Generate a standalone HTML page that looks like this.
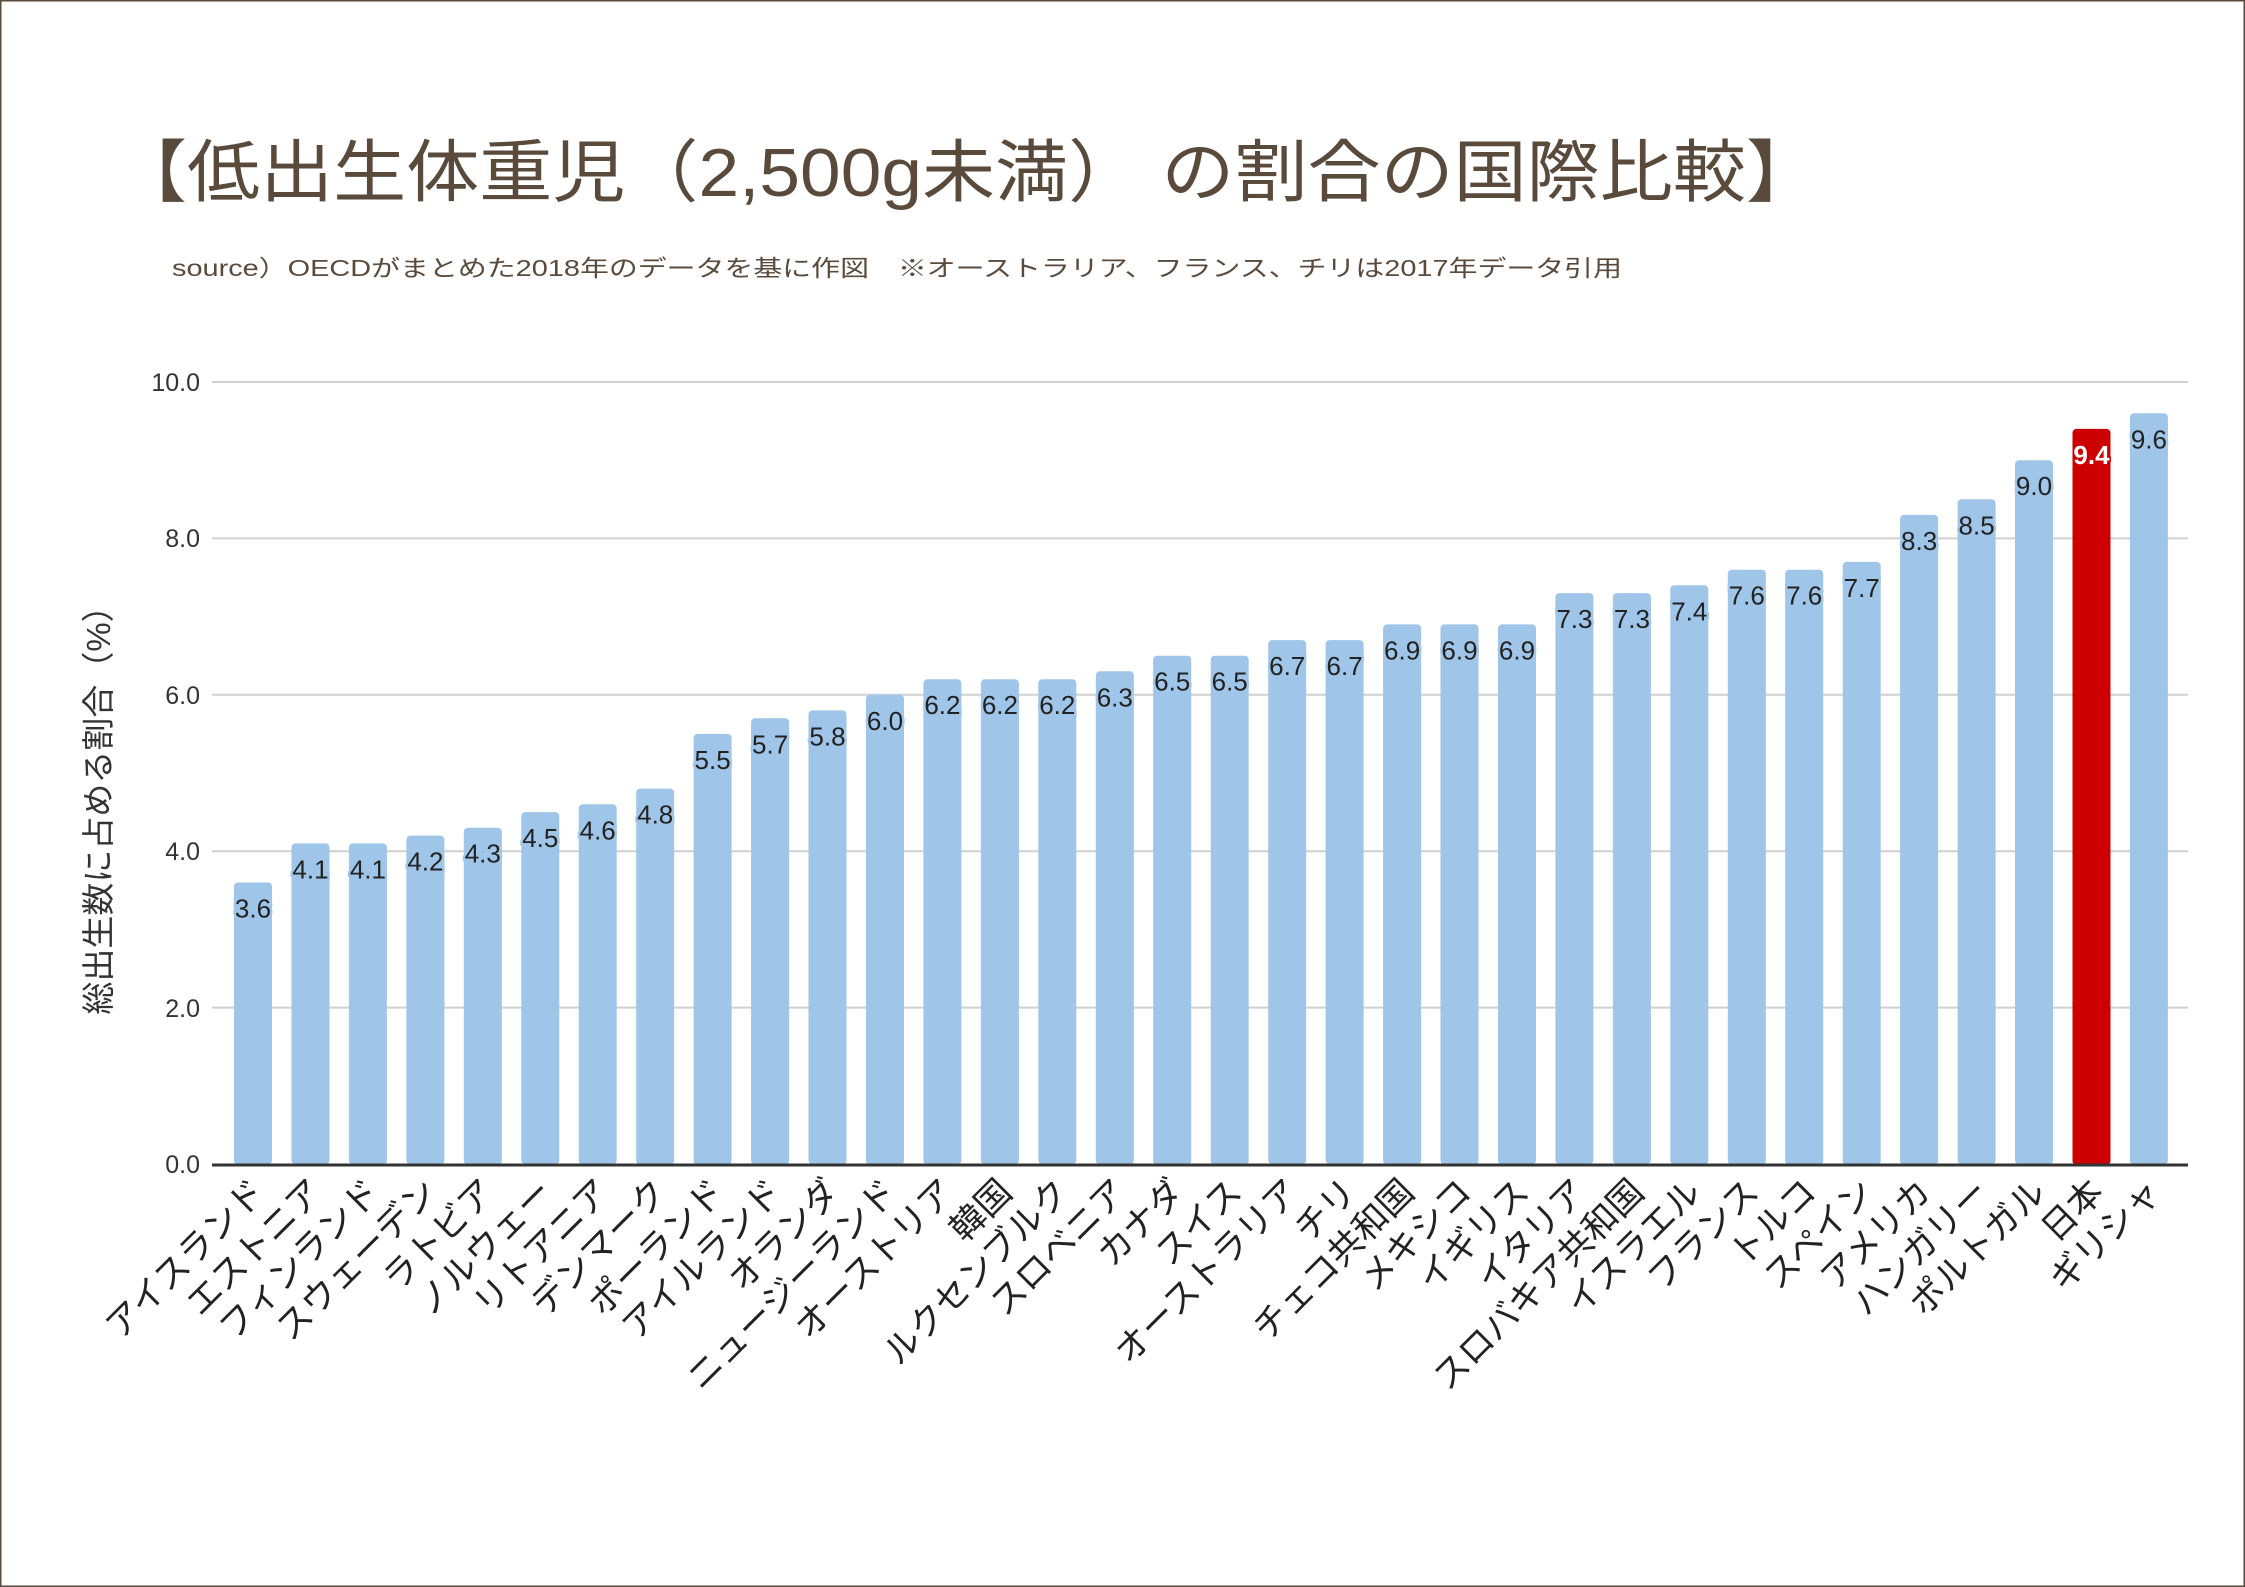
<!DOCTYPE html>
<html><head><meta charset="utf-8"><style>
html,body{margin:0;padding:0;background:#fff}
svg{display:block}
.b{fill:#9fc5e8}
.v{font-size:26px;fill:#222;stroke:#9fc5e8;stroke-width:5px;paint-order:stroke;text-anchor:middle}
.l{font-size:35px;fill:#222;text-anchor:end}
</style></head><body>
<svg width="2245" height="1587" viewBox="0 0 2245 1587" xmlns="http://www.w3.org/2000/svg" font-family="'Liberation Sans','Noto Sans CJK JP',sans-serif">
<rect x="0.5" y="0.5" width="2244" height="1586" fill="#fff" stroke="#5a4a3c" stroke-width="2"/>
<text x="114" y="196" font-size="68" fill="#5a4a3c" textLength="1705" lengthAdjust="spacingAndGlyphs">【低出生体重児（2,500g未満） の割合の国際比較】</text>
<text x="172" y="276" font-size="23" fill="#5a4a3c" textLength="1450" lengthAdjust="spacingAndGlyphs">source）OECDがまとめた2018年のデータを基に作図　※オーストラリア、フランス、チリは2017年データ引用</text>
<g stroke="#d0d0d0" stroke-width="2">
<line x1="212" x2="2188" y1="382" y2="382"/>
<line x1="212" x2="2188" y1="538.4" y2="538.4"/>
<line x1="212" x2="2188" y1="694.8" y2="694.8"/>
<line x1="212" x2="2188" y1="851.2" y2="851.2"/>
<line x1="212" x2="2188" y1="1007.6" y2="1007.6"/>
</g>
<g font-size="25" fill="#333" text-anchor="end">
<text x="200" y="391">10.0</text>
<text x="200" y="547">8.0</text>
<text x="200" y="704">6.0</text>
<text x="200" y="860">4.0</text>
<text x="200" y="1017">2.0</text>
<text x="200" y="1173">0.0</text>
</g>
<text transform="translate(110,802) rotate(-90)" font-size="33" fill="#333" text-anchor="middle">総出生数に占める割合（%）</text>
<g>
<rect class="b" x="234" y="882.5" width="38" height="282" rx="4"/>
<rect class="b" x="291.5" y="843.4" width="38" height="321" rx="4"/>
<rect class="b" x="348.9" y="843.4" width="38" height="321" rx="4"/>
<rect class="b" x="406.4" y="835.6" width="38" height="329" rx="4"/>
<rect class="b" x="463.8" y="827.7" width="38" height="337" rx="4"/>
<rect class="b" x="521.3" y="812.1" width="38" height="352" rx="4"/>
<rect class="b" x="578.7" y="804.3" width="38" height="360" rx="4"/>
<rect class="b" x="636.2" y="788.6" width="38" height="376" rx="4"/>
<rect class="b" x="693.6" y="733.9" width="38" height="431" rx="4"/>
<rect class="b" x="751.1" y="718.3" width="38" height="446" rx="4"/>
<rect class="b" x="808.5" y="710.4" width="38" height="454" rx="4"/>
<rect class="b" x="866" y="694.8" width="38" height="470" rx="4"/>
<rect class="b" x="923.4" y="679.2" width="38" height="485" rx="4"/>
<rect class="b" x="980.9" y="679.2" width="38" height="485" rx="4"/>
<rect class="b" x="1038.3" y="679.2" width="38" height="485" rx="4"/>
<rect class="b" x="1095.8" y="671.3" width="38" height="493" rx="4"/>
<rect class="b" x="1153.2" y="655.7" width="38" height="509" rx="4"/>
<rect class="b" x="1210.7" y="655.7" width="38" height="509" rx="4"/>
<rect class="b" x="1268.2" y="640.1" width="38" height="524" rx="4"/>
<rect class="b" x="1325.6" y="640.1" width="38" height="524" rx="4"/>
<rect class="b" x="1383.1" y="624.4" width="38" height="540" rx="4"/>
<rect class="b" x="1440.5" y="624.4" width="38" height="540" rx="4"/>
<rect class="b" x="1498" y="624.4" width="38" height="540" rx="4"/>
<rect class="b" x="1555.4" y="593.1" width="38" height="571" rx="4"/>
<rect class="b" x="1612.9" y="593.1" width="38" height="571" rx="4"/>
<rect class="b" x="1670.3" y="585.3" width="38" height="579" rx="4"/>
<rect class="b" x="1727.8" y="569.7" width="38" height="595" rx="4"/>
<rect class="b" x="1785.2" y="569.7" width="38" height="595" rx="4"/>
<rect class="b" x="1842.7" y="561.9" width="38" height="603" rx="4"/>
<rect class="b" x="1900.1" y="514.9" width="38" height="650" rx="4"/>
<rect class="b" x="1957.6" y="499.3" width="38" height="665" rx="4"/>
<rect class="b" x="2015" y="460.2" width="38" height="704" rx="4"/>
<rect x="2072.5" y="428.9" width="38" height="736" rx="4" fill="#cc0000"/>
<rect class="b" x="2129.9" y="413.3" width="38" height="751" rx="4"/>
</g>
<g>
<text class="v" x="253" y="917.5">3.6</text>
<text class="v" x="310.5" y="878.4">4.1</text>
<text class="v" x="367.9" y="878.4">4.1</text>
<text class="v" x="425.4" y="870.6">4.2</text>
<text class="v" x="482.8" y="862.7">4.3</text>
<text class="v" x="540.3" y="847.1">4.5</text>
<text class="v" x="597.7" y="839.3">4.6</text>
<text class="v" x="655.2" y="823.6">4.8</text>
<text class="v" x="712.6" y="768.9">5.5</text>
<text class="v" x="770.1" y="753.3">5.7</text>
<text class="v" x="827.5" y="745.4">5.8</text>
<text class="v" x="885" y="729.8">6.0</text>
<text class="v" x="942.4" y="714.2">6.2</text>
<text class="v" x="999.9" y="714.2">6.2</text>
<text class="v" x="1057.3" y="714.2">6.2</text>
<text class="v" x="1114.8" y="706.3">6.3</text>
<text class="v" x="1172.2" y="690.7">6.5</text>
<text class="v" x="1229.7" y="690.7">6.5</text>
<text class="v" x="1287.2" y="675.1">6.7</text>
<text class="v" x="1344.6" y="675.1">6.7</text>
<text class="v" x="1402.1" y="659.4">6.9</text>
<text class="v" x="1459.5" y="659.4">6.9</text>
<text class="v" x="1517" y="659.4">6.9</text>
<text class="v" x="1574.4" y="628.1">7.3</text>
<text class="v" x="1631.9" y="628.1">7.3</text>
<text class="v" x="1689.3" y="620.3">7.4</text>
<text class="v" x="1746.8" y="604.7">7.6</text>
<text class="v" x="1804.2" y="604.7">7.6</text>
<text class="v" x="1861.7" y="596.9">7.7</text>
<text class="v" x="1919.1" y="549.9">8.3</text>
<text class="v" x="1976.6" y="534.3">8.5</text>
<text class="v" x="2034" y="495.2">9.0</text>
<text x="2091.5" y="463.9" font-size="26" font-weight="bold" text-anchor="middle" fill="#fff" stroke="#cc0000" stroke-width="3" paint-order="stroke">9.4</text>
<text class="v" x="2148.9" y="448.3">9.6</text>
</g>
<line x1="212" x2="2188" y1="1165" y2="1165" stroke="#333" stroke-width="3"/>
<g>
<text class="l" transform="translate(267,1194) rotate(-45)">アイスランド</text>
<text class="l" transform="translate(324.5,1194) rotate(-45)">エストニア</text>
<text class="l" transform="translate(381.9,1194) rotate(-45)">フィンランド</text>
<text class="l" transform="translate(439.4,1194) rotate(-45)">スウェーデン</text>
<text class="l" transform="translate(496.8,1194) rotate(-45)">ラトビア</text>
<text class="l" transform="translate(554.3,1194) rotate(-45)">ノルウェー</text>
<text class="l" transform="translate(611.7,1194) rotate(-45)">リトアニア</text>
<text class="l" transform="translate(669.2,1194) rotate(-45)">デンマーク</text>
<text class="l" transform="translate(726.6,1194) rotate(-45)">ポーランド</text>
<text class="l" transform="translate(784.1,1194) rotate(-45)">アイルランド</text>
<text class="l" transform="translate(841.5,1194) rotate(-45)">オランダ</text>
<text class="l" transform="translate(899,1194) rotate(-45)">ニュージーランド</text>
<text class="l" transform="translate(956.4,1194) rotate(-45)">オーストリア</text>
<text class="l" transform="translate(1013.9,1194) rotate(-45)">韓国</text>
<text class="l" transform="translate(1071.3,1194) rotate(-45)">ルクセンブルク</text>
<text class="l" transform="translate(1128.8,1194) rotate(-45)">スロベニア</text>
<text class="l" transform="translate(1186.2,1194) rotate(-45)">カナダ</text>
<text class="l" transform="translate(1243.7,1194) rotate(-45)">スイス</text>
<text class="l" transform="translate(1301.2,1194) rotate(-45)">オーストラリア</text>
<text class="l" transform="translate(1358.6,1194) rotate(-45)">チリ</text>
<text class="l" transform="translate(1416.1,1194) rotate(-45)">チェコ共和国</text>
<text class="l" transform="translate(1473.5,1194) rotate(-45)">メキシコ</text>
<text class="l" transform="translate(1531,1194) rotate(-45)">イギリス</text>
<text class="l" transform="translate(1588.4,1194) rotate(-45)">イタリア</text>
<text class="l" transform="translate(1645.9,1194) rotate(-45)">スロバキア共和国</text>
<text class="l" transform="translate(1703.3,1194) rotate(-45)">イスラエル</text>
<text class="l" transform="translate(1760.8,1194) rotate(-45)">フランス</text>
<text class="l" transform="translate(1818.2,1194) rotate(-45)">トルコ</text>
<text class="l" transform="translate(1875.7,1194) rotate(-45)">スペイン</text>
<text class="l" transform="translate(1933.1,1194) rotate(-45)">アメリカ</text>
<text class="l" transform="translate(1990.6,1194) rotate(-45)">ハンガリー</text>
<text class="l" transform="translate(2048,1194) rotate(-45)">ポルトガル</text>
<text class="l" transform="translate(2105.5,1194) rotate(-45)">日本</text>
<text class="l" transform="translate(2162.9,1194) rotate(-45)">ギリシャ</text>
</g>
</svg>
</body></html>
